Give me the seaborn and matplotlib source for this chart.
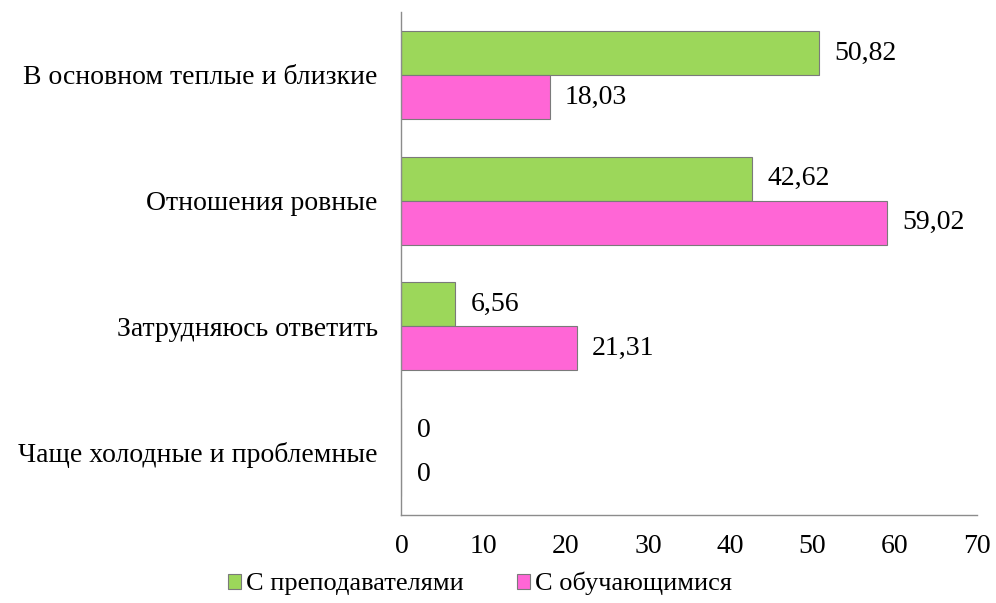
import pandas as pd
import matplotlib
matplotlib.use("Agg")
import matplotlib.pyplot as plt
import seaborn as sns

sns.set_style("white")
plt.rcParams['font.family'] = ['Liberation Serif', 'DejaVu Serif']
plt.rcParams['text.color'] = 'black'
plt.rcParams['xtick.color'] = 'black'
plt.rcParams['ytick.color'] = 'black'

categories = ['В основном теплые и близкие', 'Отношения ровные',
              'Затрудняюсь ответить', 'Чаще холодные и проблемные']
series = ['С преподавателями', 'С обучающимися']
teachers = [50.82, 42.62, 6.56, 0]
students = [18.03, 59.02, 21.31, 0]
colors = ['#9CD75A', '#FF66D6']

df = pd.DataFrame({
    'Категория': categories * 2,
    'Группа': [series[0]] * 4 + [series[1]] * 4,
    'Значение': teachers + students,
})

fig = plt.figure(figsize=(9.96, 6.03), dpi=100)
ax = fig.add_axes([0.403, 0.146, 0.578, 0.834])
sns.barplot(data=df, y='Категория', x='Значение', hue='Группа',
            palette=colors, orient='h', width=0.7, ax=ax,
            edgecolor='#7a7a7a', linewidth=0.8, saturation=1)

for cont in ax.containers:
    labels = [f'{v:.2f}'.replace('.', ',') if v else '0' for v in cont.datavalues]
    ax.bar_label(cont, labels=labels, padding=11, fontsize=20)

ax.set_xlim(0, 70)
ax.set_xticks(range(0, 71, 10))
ax.set_xlabel('')
ax.set_ylabel('')
ax.tick_params(axis='x', labelsize=20, pad=14, length=0)
ax.tick_params(axis='y', labelsize=20, pad=17, length=0)
for s in ['top', 'right']:
    ax.spines[s].set_visible(False)
for s in ['left', 'bottom']:
    ax.spines[s].set_color('#8c8c8c')
    ax.spines[s].set_linewidth(1)

handles, labels = ax.get_legend_handles_labels()
ax.get_legend().remove()
fig.legend(handles, labels, loc='center', bbox_to_anchor=(0.482, 0.032), ncol=2,
           frameon=False, fontsize=19, handlelength=0.5, handleheight=0.5,
           handletextpad=0.2, columnspacing=2.0)

fig.savefig('out.png', dpi=100)
